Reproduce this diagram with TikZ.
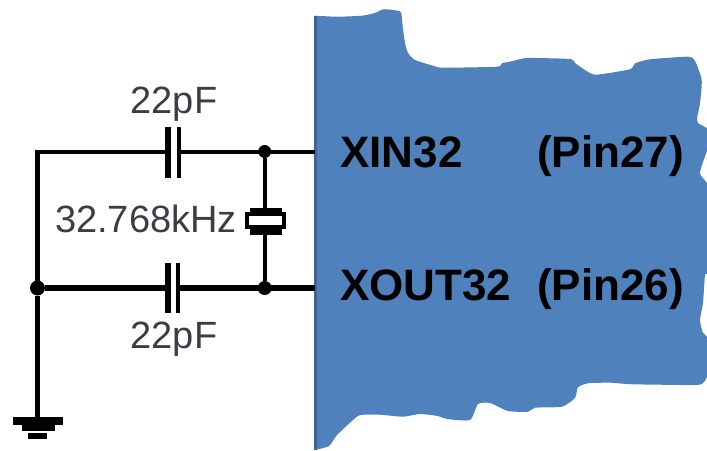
\documentclass[tikz,border=0pt]{standalone}
\usepackage{fontspec}
\setmainfont{Liberation Sans}
\definecolor{chipfill}{HTML}{4F81BD}
\definecolor{chipedge}{HTML}{3E6496}
\definecolor{valtext}{HTML}{3C3C44}
\tikzset{
  wire/.style={draw=black,line width=4.2pt},
  heavywire/.style={draw=black,line width=5.6pt},
  dot/.style={circle,fill=black,inner sep=0pt,minimum size=#1},
  val/.style={inner sep=0pt,anchor=base,text=valtext,font=\fontsize{38}{38}\selectfont},
  pin/.style={inner sep=0pt,anchor=base west,text=black,font=\fontsize{44}{44}\selectfont\bfseries},
}
\begin{document}
\begin{tikzpicture}[x=1pt,y=-1pt]
\useasboundingbox (0,0) rectangle (707,450);
\clip (0,0) rectangle (707,450);
% chip body
\fill[chipfill] plot[smooth,tension=0.35] coordinates {
 (315,15.7) (337,16.7) (362,15.7) (375,13) (383,9.3) (393,10) (401,12.3) (402.7,27) (405,43) (408,53)
 (415,60) (433,65.7) (443,67.7) (497,66.7) (502,63.3) (513,61) (527,58) (570,59) (575,63) (582,68)
 (595,74.7) (630,69.3) (635,63.3) (650,59.3) (688,56.7) (695,61) (701.7,80) (700,103) (697.3,117)
 (698,123) (708,129) (712,138) (708,148) (700,173) (708,186) (712,230) (708,272) (705,275) (703,303)
 (700,320) (703,333) (708,338) (712,360) (707,377) (703,383) (695,385) (633,384.3) (610,382.7)
 (588,383.3) (578,387.3) (575,398) (562,406.7) (535,407.7) (528,411.7) (508,411) (490,403) (478,404)
 (470,420) (447,419) (438,416) (420,414) (403,416.7) (380,414.7) (360,415) (353,420) (337,435)
 (329,446) (315,450)} -- cycle;
\fill[chipedge] (314,15.7) rectangle (317,450);

\coordinate (tl) at (37.5,152);
\coordinate (tc1) at (167.7,152);
\coordinate (tc2) at (179,152);
\coordinate (tr) at (315,152);
\coordinate (bc1) at (168,288);
\coordinate (bc2) at (178,288);
\coordinate (br) at (315,288);
\coordinate (xt) at (264.7,208);
\coordinate (xb) at (264.7,232);
\coordinate (gnd) at (37.5,420);

\node[dot=13pt] (jt) at (264.7,151.5) {};
\node[dot=14pt] (jb) at (264.7,288) {};
\node[dot=15pt] (jl) at (37.5,288) {};

% wires
\draw[wire,line cap=rect] (tc1) -- (tl) -- (jl);
\draw[wire] (tc2) -- (tr);
\draw[heavywire] (jl) -- (bc1);
\draw[heavywire] (bc2) -- (br);
\draw[wire] (jt) -- (xt);
\draw[wire] (xb) -- (jb);
\draw[wire] (jl) -- (gnd);

% top capacitor
\draw[draw=black,line width=5.6pt] (167.7,127) -- (167.7,178);
\draw[draw=black,line width=4pt] (179,127) -- (179,178);
% bottom capacitor
\draw[draw=black,line width=6.4pt] (168,263) -- (168,313);
\draw[draw=black,line width=4.4pt] (178,263) -- (178,313);

% crystal
\draw[draw=black,fill=white,line width=4.5pt] (247,214) rectangle (284,227);
\draw[draw=black,line width=5pt] (250,210) -- (282,210);
\draw[draw=black,line width=6pt] (250,231.5) -- (282,231.5);

% ground
\draw[draw=black,line width=8pt] (13,420.5) -- (63,420.5);
\draw[draw=black,line width=7pt] (22,427.5) -- (55,427.5);
\draw[draw=black,line width=5.5pt] (28,436) -- (47,436);

% labels
\node[val] (c1lab) at (174,113) {22pF};
\node[val] (c2lab) at (174,348) {22pF};
\node[val] (xlab) at (146,232) {32.768kHz};
\node[pin] (xin) at (340,167) {XIN32};
\node[pin] (pin27) at (537,167) {(Pin27)};
\node[pin] (xout) at (340,300) {XOUT32};
\node[pin] (pin26) at (537,300) {(Pin26)};
\end{tikzpicture}
\end{document}
